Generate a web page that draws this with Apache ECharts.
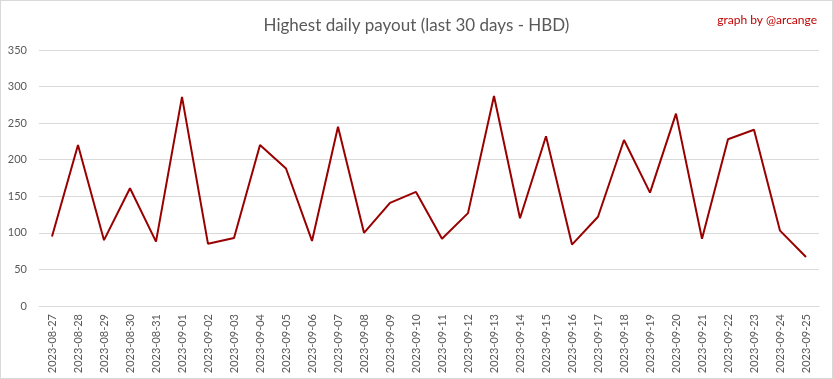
<!DOCTYPE html>
<html><head><meta charset="utf-8">
<script src="https://cdn.jsdelivr.net/npm/echarts@6/dist/echarts.min.js"></script>
<style>html,body{margin:0;padding:0;background:#fff}#c{width:833px;height:379px;box-sizing:border-box;border:1px solid #d9d9d9}</style>
</head><body><div id="c"></div>
<script>
var categories = ["2023-08-27","2023-08-28","2023-08-29","2023-08-30","2023-08-31","2023-09-01","2023-09-02","2023-09-03","2023-09-04","2023-09-05","2023-09-06","2023-09-07","2023-09-08","2023-09-09","2023-09-10","2023-09-11","2023-09-12","2023-09-13","2023-09-14","2023-09-15","2023-09-16","2023-09-17","2023-09-18","2023-09-19","2023-09-20","2023-09-21","2023-09-22","2023-09-23","2023-09-24","2023-09-25"];
var payout = [95,220,90,161,88,286,85,93,220,188,89,245,100,141,156,92,127,287,120,232,84,122,227,155,263,92,228,241,103,67];
var titleText = "Highest daily payout (last 30 days - HBD)";
var creditText = "graph by @arcange";
var chart = echarts.init(document.getElementById('c'));
chart.setOption({
  animation:false,
  backgroundColor:'#fff',
  title:[
    {text:titleText,left:'center',top:11,textStyle:{fontFamily:'Lato',fontSize:17,fontWeight:'normal',color:'#595959'}},
    {text:creditText,right:10,top:8,textStyle:{fontFamily:'Lato',fontSize:12,fontWeight:'normal',color:'#c00000'}}
  ],
  grid:{left:38,right:13,top:49,bottom:72},
  xAxis:{type:'category',data:categories,boundaryGap:true,
    axisLine:{show:true,lineStyle:{color:'#d9d9d9'}},axisTick:{show:false},
    axisLabel:{rotate:90,interval:0,fontFamily:'Lato',fontSize:11,color:'#595959',margin:8}},
  yAxis:{type:'value',min:0,max:350,interval:50,
    axisLine:{show:false},axisTick:{show:false},
    splitLine:{lineStyle:{color:'#d9d9d9'}},
    axisLabel:{fontFamily:'Lato',fontSize:11,color:'#595959',margin:12}},
  series:[{type:'line',data:payout,symbol:'none',lineStyle:{color:'#990000',width:2}}]
});
</script></body></html>
